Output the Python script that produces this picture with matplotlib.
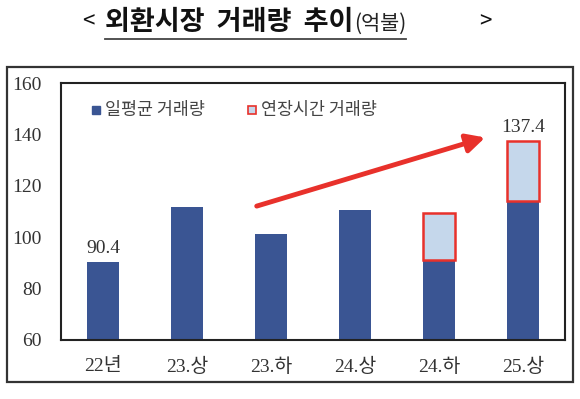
import numpy as np
import matplotlib.pyplot as plt
from matplotlib.patches import Rectangle, FancyArrowPatch
from matplotlib.lines import Line2D

categories = ["22년", "23.상", "23.하", "24.상", "24.하", "25.상"]
daily_avg = [90.4, 111.6, 101.2, 110.6, 91.1, 114.2]
extended = [0, 0, 0, 0, 18.4, 23.2]
labels = {0: "90.4", 5: "137.4"}

DARK = "#3A5593"
LIGHT = "#C5D7EB"
RED = "#E8312B"

plt.rcParams['font.family'] = ['Liberation Serif', 'Noto Sans CJK KR']

W, H = 580, 399
fig = plt.figure(figsize=(W/100, H/100), dpi=100)

def fx(px): return px / W
def fy(py): return 1 - py / H

# outer frame
fig.patches.append(Rectangle((fx(7), fy(382)), fx(573) - fx(7), fy(67) - fy(382),
                             transform=fig.transFigure, fill=False, ec="#333333", lw=1.6))

ax = fig.add_axes([fx(61), fy(340), fx(565) - fx(61), fy(83) - fy(340)])
x = np.arange(len(categories))
bw = 0.38
ax.bar(x, daily_avg, bw, color=DARK, bottom=0, zorder=2)
ext_idx = [i for i, v in enumerate(extended) if v > 0]
ax.bar([x[i] for i in ext_idx], [extended[i] for i in ext_idx], bw,
       bottom=[daily_avg[i] for i in ext_idx], color=LIGHT, edgecolor=RED, lw=1.8, zorder=3)

ax.set_ylim(60, 160)
ax.set_xlim(-0.5, len(categories) - 0.5)
ax.set_yticks(range(60, 161, 20))
ax.set_xticks(x)
ax.set_xticklabels(categories)
ax.tick_params(axis='both', length=0, labelsize=14, colors="#333333")
ax.tick_params(axis='y', pad=14)
ax.tick_params(axis='x', pad=13)
for s in ax.spines.values():
    s.set_linewidth(1.5)
    s.set_color("#222222")

for i, t in labels.items():
    top = daily_avg[i] + extended[i]
    ax.text(x[i], top + 2, t, ha='center', va='bottom', fontsize=14, color="#333333")

# arrow
ax.add_patch(FancyArrowPatch((1.83, 112.1), (4.55, 138.8), arrowstyle='-|>,head_length=5.5,head_width=2.8',
                             color=RED, lw=3.5, mutation_scale=2, shrinkA=0, shrinkB=0, zorder=4))

# legend
lfont = dict(family=['Noto Sans CJK KR'], fontsize=12.5, color="#444444")
fig.add_artist(Rectangle((fx(92), fy(114)), fx(8), fy(106) - fy(114), transform=fig.transFigure,
                         color=DARK))
fig.text(fx(105), fy(110), "일평균 거래량", va='center', ha='left', **lfont)
fig.add_artist(Rectangle((fx(248), fy(114)), fx(8), fy(106) - fy(114), transform=fig.transFigure,
                         fc=LIGHT, ec=RED, lw=1.2))
fig.text(fx(261), fy(110), "연장시간 거래량", va='center', ha='left', **lfont)

# title
tfont = ['Noto Sans CJK KR']
fig.text(fx(88), fy(22), "<", ha='center', va='center', fontsize=16, family=tfont, color="#111111")
fig.text(fx(485), fy(22), ">", ha='center', va='center', fontsize=16, family=tfont, color="#111111")
t1 = fig.text(fx(105), fy(22), "외환시장  거래량  추이", ha='left', va='center', fontsize=19.5,
              fontweight='bold', family=tfont, color="#111111")
fig.canvas.draw()
r = fig.canvas.get_renderer()
bb = t1.get_window_extent(r)
t2 = fig.text(bb.x1 / W + 0.001, fy(24), "(억불)", ha='left', va='center', fontsize=15,
              family=tfont, color="#222222")
bb2 = t2.get_window_extent(r)
fig.add_artist(Line2D([fx(105), bb2.x1 / W], [fy(39), fy(39)], transform=fig.transFigure,
                      color="#444444", lw=1.3))

fig.savefig("out.png", dpi=100)
